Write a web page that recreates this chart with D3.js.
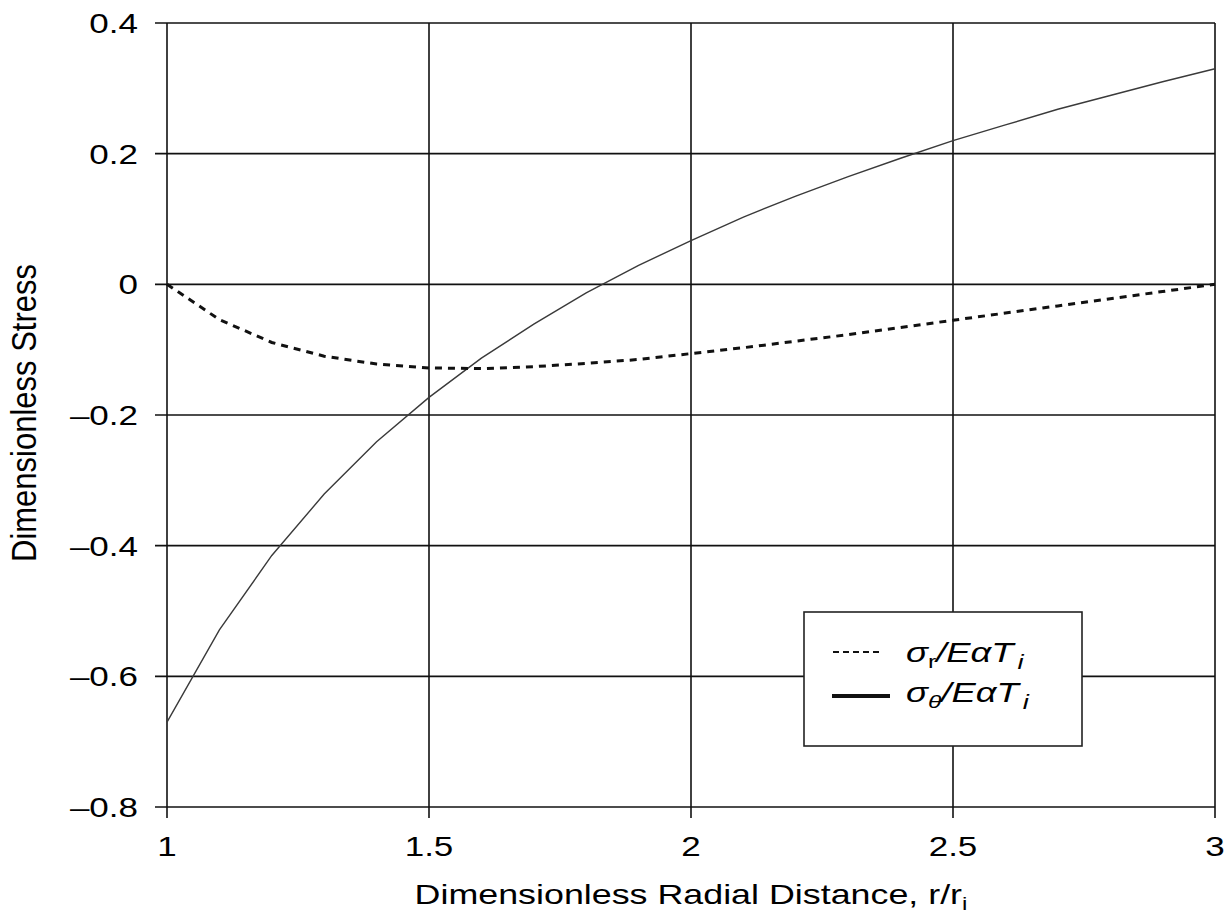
<!DOCTYPE html>
<html>
<head>
<meta charset="utf-8">
<script src="https://d3js.org/d3.v7.min.js"></script>
<style>
  body { margin: 0; background: #fff; }
  text { font-family: "Liberation Sans", Arial, sans-serif; fill: #000; }
</style>
</head>
<body>
<svg width="1228" height="914"></svg>
<script>
// radial distance r/ri
var rValues = [1.0, 1.1, 1.2, 1.3, 1.4, 1.5, 1.6, 1.7, 1.8, 1.9, 2.0,
               2.1, 2.2, 2.3, 2.4, 2.5, 2.6, 2.7, 2.8, 2.9, 3.0];
// sigma_r / E alpha Ti (dashed)
var sigmaR = [0, -0.054, -0.089, -0.110, -0.122, -0.128, -0.129, -0.126, -0.121, -0.115, -0.106,
              -0.097, -0.087, -0.077, -0.066, -0.055, -0.044, -0.033, -0.022, -0.011, 0];
// sigma_theta / E alpha Ti (solid)
var sigmaTheta = [-0.670, -0.529, -0.415, -0.321, -0.241, -0.173, -0.113, -0.061, -0.013, 0.029, 0.067,
                  0.103, 0.135, 0.165, 0.193, 0.220, 0.244, 0.268, 0.289, 0.310, 0.330];

var xTicks = [1, 1.5, 2, 2.5, 3];
var xTickLabels = ["1", "1.5", "2", "2.5", "3"];
var yTicks = [0.4, 0.2, 0, -0.2, -0.4, -0.6, -0.8];
var yTickLabels = ["0.4", "0.2", "0", "\u20130.2", "\u20130.4", "\u20130.6", "\u20130.8"];

var svg = d3.select("svg");
var plotL = 167, plotR = 1215, plotT = 23, plotB = 807;
var sx = 1.25; // horizontal stretch of the lettering

var x = d3.scaleLinear().domain([1, 3]).range([plotL, plotR]);
var y = d3.scaleLinear().domain([-0.8, 0.4]).range([plotB, plotT]);

// grid
svg.append("g").selectAll("line")
  .data(yTicks).enter().append("line")
  .attr("x1", plotL - 12).attr("x2", plotR)
  .attr("y1", function(d) { return y(d); }).attr("y2", function(d) { return y(d); })
  .attr("stroke", "#111").attr("stroke-width", 1.6);

svg.append("g").selectAll("line")
  .data(xTicks).enter().append("line")
  .attr("y1", plotT).attr("y2", plotB + 11)
  .attr("x1", function(d) { return x(d); }).attr("x2", function(d) { return x(d); })
  .attr("stroke", "#111").attr("stroke-width", 1.6);

// tick labels
svg.append("g").selectAll("text")
  .data(yTicks).enter().append("text")
  .attr("transform", function(d) { return "translate(138," + (y(d) + 10) + ") scale(" + sx + ",1)"; })
  .attr("text-anchor", "end")
  .attr("font-size", 28)
  .text(function(d, i) { return yTickLabels[i]; });

svg.append("g").selectAll("text")
  .data(xTicks).enter().append("text")
  .attr("transform", function(d) { return "translate(" + x(d) + ",856) scale(" + sx + ",1)"; })
  .attr("text-anchor", "middle")
  .attr("font-size", 28)
  .text(function(d, i) { return xTickLabels[i]; });

// axis titles
var xt = svg.append("text")
  .attr("transform", "translate(691,904) scale(1.28,1)")
  .attr("text-anchor", "middle")
  .attr("font-size", 28)
  .text("Dimensionless Radial Distance, r/r");
xt.append("tspan").attr("font-size", 19).attr("dy", 6).text("i");

svg.append("text")
  .attr("transform", "translate(36,413) scale(1.15,1) rotate(-90)")
  .attr("text-anchor", "middle")
  .attr("font-size", 31)
  .text("Dimensionless Stress");

// curves
var line = d3.line()
  .x(function(d) { return x(d[0]); })
  .y(function(d) { return y(d[1]); });

svg.append("path")
  .datum(rValues.map(function(r, i) { return [r, sigmaTheta[i]]; }))
  .attr("d", line)
  .attr("fill", "none")
  .attr("stroke", "#3a3a3a")
  .attr("stroke-width", 1.4);

svg.append("path")
  .datum(rValues.map(function(r, i) { return [r, sigmaR[i]]; }))
  .attr("d", line)
  .attr("fill", "none")
  .attr("stroke", "#111")
  .attr("stroke-width", 3)
  .attr("stroke-dasharray", "7,6");

// legend
var lg = svg.append("g");
lg.append("rect")
  .attr("x", 804).attr("y", 612)
  .attr("width", 278).attr("height", 134)
  .attr("fill", "#fff").attr("stroke", "#222").attr("stroke-width", 1.6);

lg.append("line")
  .attr("x1", 833).attr("x2", 880).attr("y1", 652).attr("y2", 652)
  .attr("stroke", "#111").attr("stroke-width", 1.8).attr("stroke-dasharray", "6,4");
lg.append("line")
  .attr("x1", 832).attr("x2", 890).attr("y1", 696).attr("y2", 696)
  .attr("stroke", "#111").attr("stroke-width", 3.8);

var t1 = lg.append("text")
  .attr("transform", "translate(906,662) scale(1.3,1)")
  .attr("font-size", 28).attr("font-style", "italic");
t1.append("tspan").text("\u03c3");
t1.append("tspan").attr("font-size", 19).attr("font-style", "normal").attr("dy", 6).text("r");
t1.append("tspan").attr("dy", -6).text("/E\u03b1T");
t1.append("tspan").attr("font-size", 21).attr("dy", 7).attr("dx", 3).text("i");

var t2 = lg.append("text")
  .attr("transform", "translate(906,702) scale(1.3,1)")
  .attr("font-size", 28).attr("font-style", "italic");
t2.append("tspan").text("\u03c3");
t2.append("tspan").attr("font-size", 19).attr("dy", 6).text("\u03b8");
t2.append("tspan").attr("dy", -6).text("/E\u03b1T");
t2.append("tspan").attr("font-size", 21).attr("dy", 7).attr("dx", 3).text("i");
</script>
</body>
</html>
